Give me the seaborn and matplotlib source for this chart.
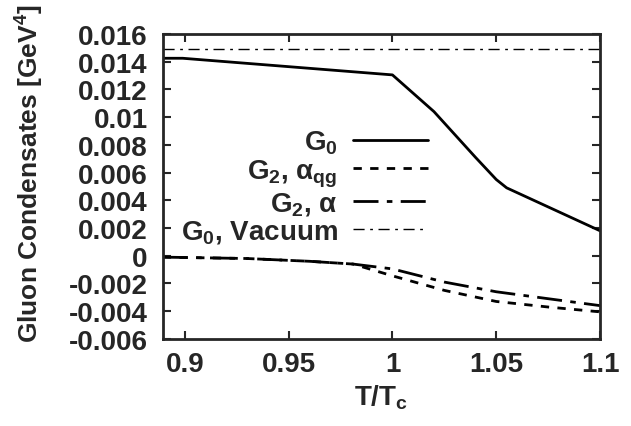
import numpy as np
import pandas as pd
import matplotlib
matplotlib.use("Agg")
import matplotlib.pyplot as plt
import seaborn as sns

# data
x_g0 = [0.8894, 0.899, 1.0, 1.02, 1.04, 1.05, 1.055, 1.1]
y_g0 = [0.01425, 0.01425, 0.01305, 0.0104, 0.0071, 0.0055, 0.0049, 0.0018]
x_g2 = [0.8894, 0.93, 0.96, 0.981, 1.0, 1.025, 1.05, 1.075, 1.1]
y_g2_qg = [-0.0001, -0.0002, -0.0004, -0.0006, -0.00145, -0.0025, -0.0033, -0.0037, -0.00405]
y_g2_a = [-0.0001, -0.0002, -0.0004, -0.0006, -0.00095, -0.0019, -0.0026, -0.0031, -0.0036]
x_vac = [0.8894, 1.1]
y_vac = [0.01492, 0.01492]
labels = [r"G$_0$", r"G$_2$, $\alpha_{qg}$", r"G$_2$, $\alpha$", r"G$_0$, Vacuum"]
xticks = [0.9, 0.95, 1.0, 1.05, 1.1]
xticklabels = ["0.9", "0.95", "1", "1.05", "1.1"]
yticks = [-0.006, -0.004, -0.002, 0, 0.002, 0.004, 0.006, 0.008, 0.01, 0.012, 0.014, 0.016]
yticklabels = ["-0.006", "-0.004", "-0.002", "0", "0.002", "0.004", "0.006", "0.008",
               "0.01", "0.012", "0.014", "0.016"]

sns.set_style("ticks")
plt.rcParams['font.family'] = ['Liberation Sans', 'DejaVu Sans']
plt.rcParams['font.weight'] = 'bold'
plt.rcParams['axes.labelweight'] = 'bold'
plt.rcParams['mathtext.fontset'] = 'custom'
plt.rcParams['mathtext.rm'] = 'Liberation Sans:bold'
plt.rcParams['mathtext.bf'] = 'Liberation Sans:bold'
plt.rcParams['mathtext.it'] = 'Liberation Sans'

fig = plt.figure(figsize=(6.31, 4.27), dpi=100)
ax = fig.add_axes([0.258, 0.204, 0.693, 0.714])

sns.lineplot(x=x_g0, y=y_g0, ax=ax, color='black', lw=2, label=labels[0])
sns.lineplot(x=x_g2, y=y_g2_qg, ax=ax, color='black', lw=2, linestyle=(0, (3, 3)), label=labels[1])
sns.lineplot(x=x_g2, y=y_g2_a, ax=ax, color='black', lw=2, linestyle=(0, (9, 3, 2, 3)), label=labels[2])
sns.lineplot(x=x_vac, y=y_vac, ax=ax, color='black', lw=1, linestyle=(0, (8, 4, 2, 4)), label=labels[3])

ax.set_xlim(0.8894, 1.1)
ax.set_ylim(-0.006, 0.016)
ax.set_xticks(xticks)
ax.set_xticklabels(xticklabels)
ax.set_yticks(yticks)
ax.set_yticklabels(yticklabels)
ax.tick_params(direction='in', length=6, width=1.5, top=True, right=True, labelsize=20)
ax.tick_params(axis='x', pad=9)
ax.tick_params(axis='y', pad=11)
for lab in ax.get_xticklabels() + ax.get_yticklabels():
    lab.set_fontweight('bold')
for s in ax.spines.values():
    s.set_linewidth(2)
ax.set_xlabel(r"T/T$_c$", fontsize=20, fontweight='bold', labelpad=4)
ax.set_ylabel(r"Gluon Condensates [GeV$^4$]", fontsize=19, fontweight='bold')
ax.yaxis.set_label_coords(-0.268, 0.545)

leg = ax.legend(loc='upper right', bbox_to_anchor=(0.606, 0.69), markerfirst=False, frameon=False,
                fontsize=20, handlelength=2.7, handletextpad=0.55, labelspacing=0.05,
                borderaxespad=0.0, borderpad=0.0)
for t in leg.get_texts():
    t.set_fontweight('bold')
    t.set_ha('right')

fig.savefig("out.png", dpi=100)
